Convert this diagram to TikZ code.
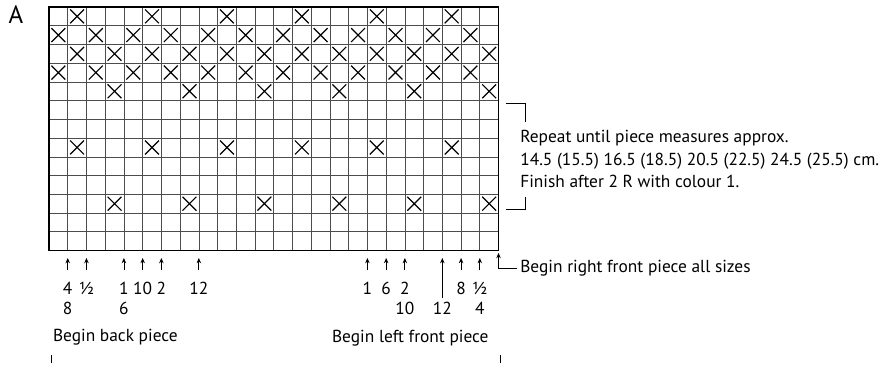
\documentclass[tikz,border=0pt]{standalone}
\usepackage{fontspec}
\setmainfont{PT Sans}
\usetikzlibrary{arrows.meta}

\begin{document}
\begin{tikzpicture}[x=0.5cm,y=0.5cm,
    every node/.style={font=\fontsize{13.2}{17}\selectfont, inner sep=0pt},
    cross/.style={line width=0.9pt},
    arr/.style={line width=0.6pt, -{Stealth[length=4pt,width=3.4pt]}}]
    \useasboundingbox (-2.616,-6.22) rectangle (44.42,13.374);
    % chart letter
    \node (chart) at (-1.76,12.57) {\fontsize{19}{19}\selectfont A};
    % grid: 24 stitches, 13 rows
    \draw[black!70, line width=0.5pt, step=0.5cm] (0,0) grid (24,13);
    \draw[line width=1.4pt] (0,0) rectangle (24,13);
    % crosses: row (bottom edge) / first stitch / step
    \foreach \v/\a/\s in {12/2/4, 11/1/2, 10/2/2, 9/1/2, 8/4/4, 5/2/4, 2/4/4} {
      \pgfmathtruncatemacro\b{\a+\s}
      \foreach \c in {\a,\b,...,24}
        \draw[cross] ({\c-0.87},{\v+0.13}) -- ({\c-0.13},{\v+0.87})
                     ({\c-0.87},{\v+0.87}) -- ({\c-0.13},{\v+0.13});
    }
    % repeat bracket
    \draw[line width=0.6pt] (24.4,7.88) -- (25.41,7.88) -- (25.41,6.86);
    \draw[line width=0.6pt] (25.41,2.86) -- (25.41,2.21) -- (24.4,2.21);
    \node[anchor=west, align=left] (repeat) at (25.15,4.88)
      {Repeat until piece measures approx.\\
       14.5 (15.5) 16.5 (18.5) 20.5 (22.5) 24.5 (25.5) cm.\\
       Finish after 2 R with colour 1.};
    % size arrows under the chart
    \foreach \u in {1,2,4,5,6,8,17,18,19,22,23}
      \draw[arr] (\u,-1.05) -- (\u,-0.4);
    \draw[arr] (21,-2.55) -- (21,-0.4);
    \foreach \u/\v/\t [count=\i] in {1/-2/4, 1/-3.1/8, 2/-2/½, 4/-2/1, 4/-3.1/6,
        5/-2/10, 6/-2/2, 8/-2/12, 17/-2/1, 18/-2/6, 19/-2/2, 19/-3.1/10,
        21/-3.1/12, 22/-2/8, 23/-2/½, 23/-3.1/4}
      \node (size\i) at (\u,\v) {\t};
    % pieces
    \node[anchor=west] (back) at (0.2,-4.62) {Begin back piece};
    \node[anchor=west] (leftfront) at (15.1,-4.67) {Begin left front piece};
    \node[anchor=west] (rightfront) at (25.15,-0.95) {Begin right front piece all sizes};
    \draw[arr] ([xshift=-2pt]rightfront.west) -- (24,-0.95) -- (24,-0.13);
    \draw[line width=0.6pt] (0.14,-5.58) -- (0.14,-6.0);
    \draw[line width=0.6pt] (24.08,-5.58) -- (24.08,-6.0);
\end{tikzpicture}
\end{document}
